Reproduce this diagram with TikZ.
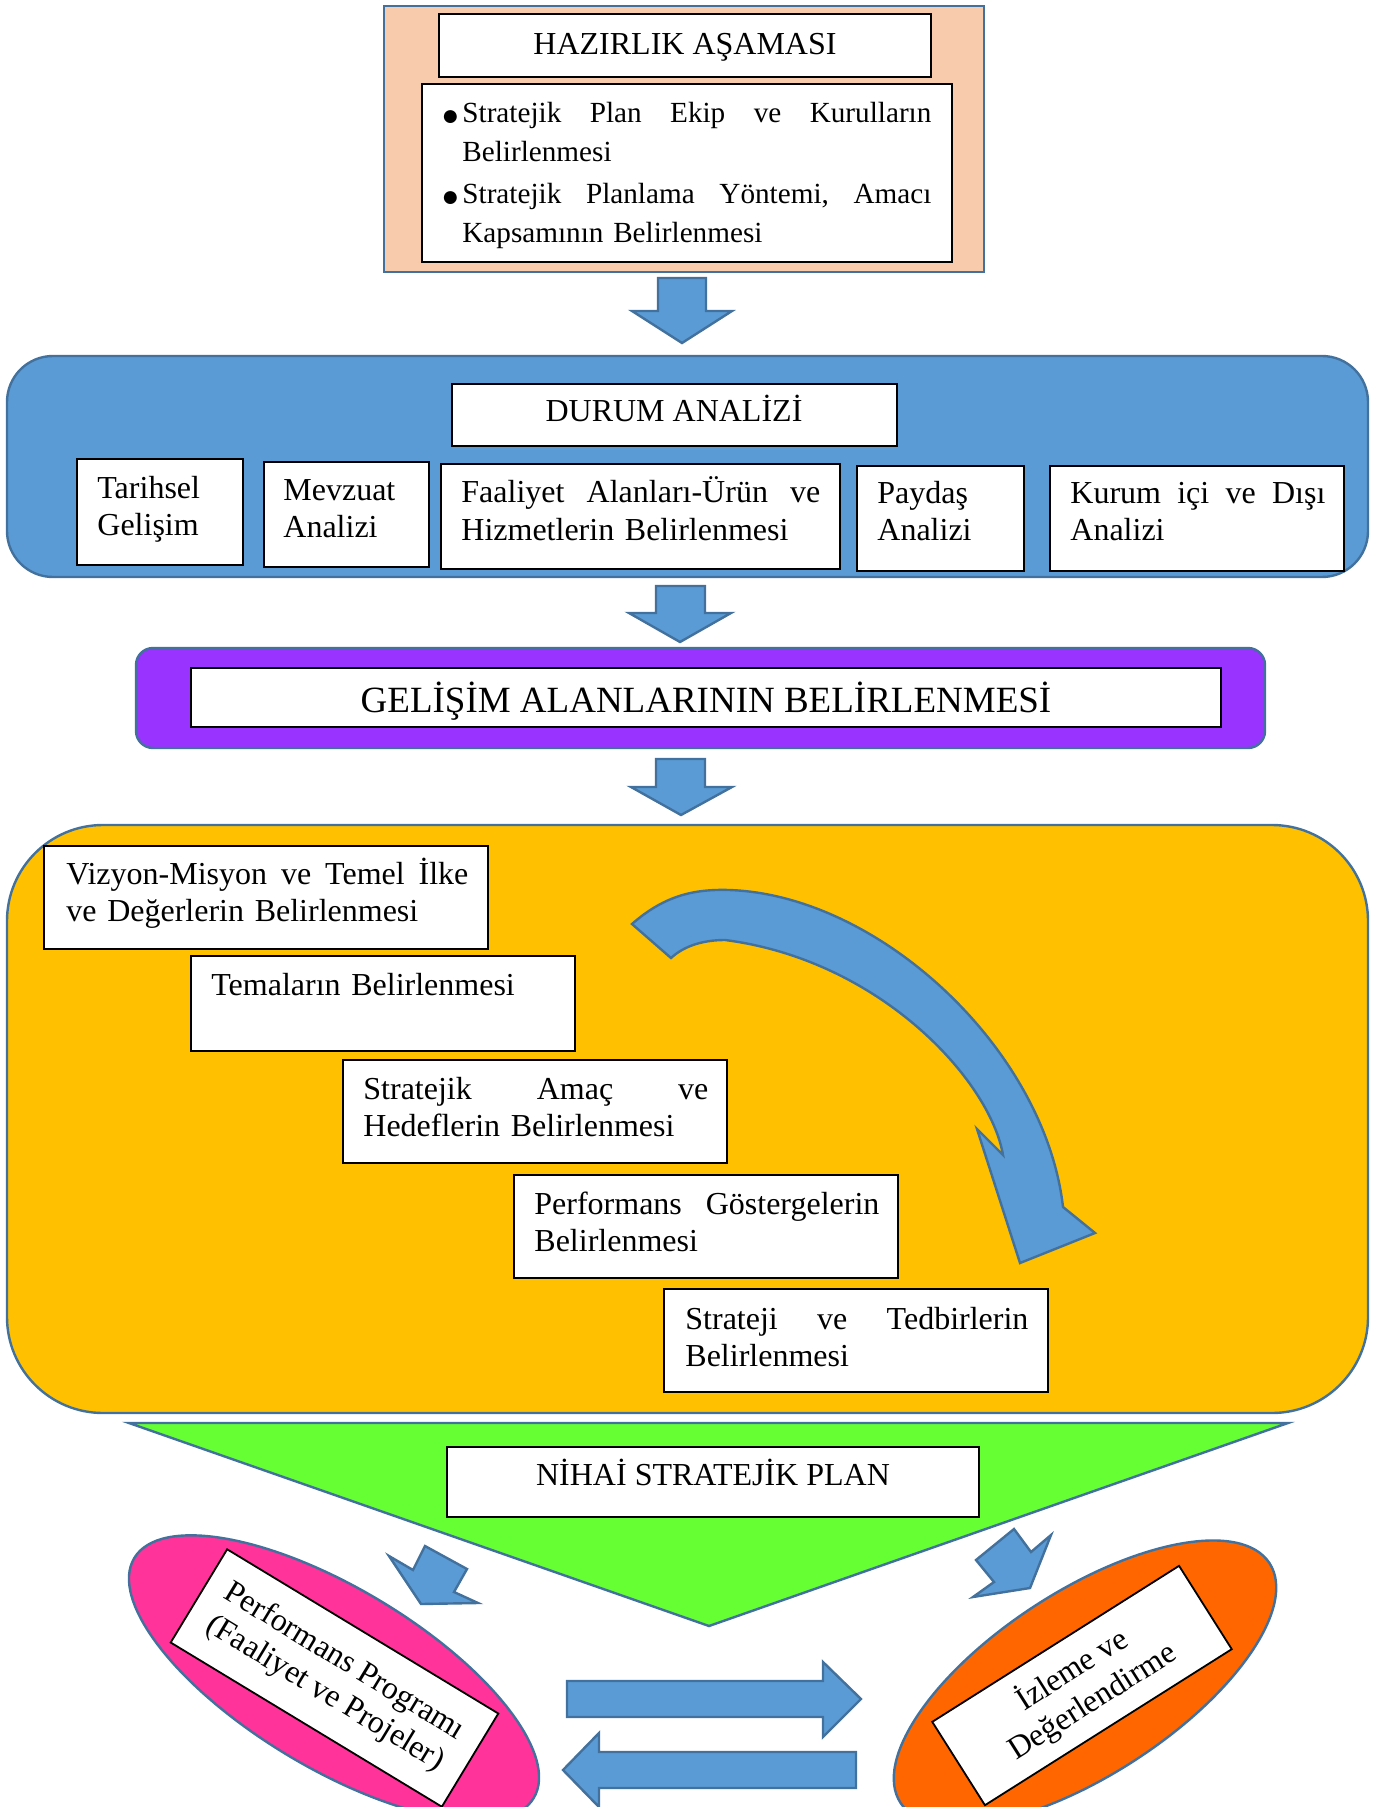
\documentclass[tikz,border=0pt]{standalone}
\usepackage{fontspec}
\setmainfont{Liberation Serif}
\definecolor{arrowblue}{HTML}{5B9BD5}
\definecolor{arrowedge}{HTML}{41719C}
\definecolor{peach}{HTML}{F8CBAD}
\definecolor{vpurple}{HTML}{9933FF}
\definecolor{amber}{HTML}{FFC000}
\definecolor{lgreen}{HTML}{66FF33}
\definecolor{hotpink}{HTML}{FF3399}
\definecolor{vorange}{HTML}{FF6600}
\newcommand\jline[2]{\hbox to #1{#2}}
\newcommand\bul{\makebox[9.5pt][l]{\hspace*{-1pt}\raisebox{-1.3pt}{\fontsize{15}{15}\selectfont ●}}}
\begin{document}
\begin{tikzpicture}[x=0.5pt,y=-0.5pt,
  wbox/.style={draw=black,fill=white,line width=0.9pt},
  shp/.style={draw=arrowedge,line width=1.2pt,line join=miter},
  blk/.style={shp,fill=arrowblue},
  ttl/.style={inner sep=0pt,anchor=base,font=\fontsize{16}{18.5}\selectfont},
  tl/.style={inner sep=0pt,anchor=base west,align=left,font=\fontsize{16}{18.5}\selectfont},
  rtxt/.style={draw=black,fill=white,line width=0.9pt,inner sep=0pt,align=center,font=\fontsize{16}{18.5}\selectfont}]
\useasboundingbox (0,0) rectangle (1375,1807);
\clip (0,0) rectangle (1375,1807);

% ---------- Hazirlik asamasi ----------
\draw[shp,fill=peach] (384,6) rectangle (984,272);
\draw[wbox] (439,14) rectangle (931,77);
\node[ttl] (hazirlik) at (685,55) {HAZIRLIK AŞAMASI};
\draw[wbox] (422,84) rectangle (952,262);
\node[tl,text width=246pt,font=\fontsize{14.6}{19.5}\selectfont] (bullets) at (443,123)
 {\bul\jline{234.5pt}{Stratejik\hfill Plan\hfill Ekip\hfill ve\hfill Kurulların}\\
  \hspace*{9.5pt}Belirlenmesi\\[1.5pt]
  \bul\jline{234.5pt}{Stratejik\hfill Planlama\hfill Yöntemi,\hfill Amacı}\\
  \hspace*{9.5pt}Kapsamının Belirlenmesi};

% arrow 1
\draw[blk] (658,278) -- (706,278) -- (706,311) -- (732,311) -- (682,343) -- (632,311) -- (658,311) -- cycle;

% ---------- Durum analizi ----------
\draw[shp,fill=arrowblue,rounded corners=23pt] (7,356) rectangle (1368,577);
\draw[wbox] (452,384) rectangle (897,446);
\node[ttl] (durum) at (674,422) {DURUM ANALİZİ};
\draw[wbox] (77,459) rectangle (243,565);
\node[tl,text width=70pt] (tarihsel) at (97,499) {Tarihsel\\Gelişim};
\draw[wbox] (264,462) rectangle (429,567);
\node[tl,text width=70pt] (mevzuat) at (283,501) {Mevzuat\\Analizi};
\draw[wbox] (441,464) rectangle (840,569);
\node[tl,text width=181pt] (faaliyet) at (461,503) {\jline{179.5pt}{Faaliyet\hfill Alanları-Ürün\hfill ve}\\Hizmetlerin Belirlenmesi};
\draw[wbox] (857,466) rectangle (1024,571);
\node[tl,text width=70pt] (paydas) at (877,504) {Paydaş\\Analizi};
\draw[wbox] (1050,466) rectangle (1344,571);
\node[tl,text width=130pt] (kurum) at (1070,504) {\jline{127.5pt}{Kurum\hfill içi\hfill ve\hfill Dışı}\\Analizi};

% arrow 2
\draw[blk] (656,586) -- (705,586) -- (705,613) -- (731,613) -- (680,642) -- (629,613) -- (656,613) -- cycle;

% ---------- Gelisim alanlari ----------
\draw[shp,fill=vpurple,rounded corners=8.5pt] (136,648) rectangle (1265,748);
\draw[wbox] (191,668) rectangle (1221,727);
\node[ttl,font=\fontsize{18.5}{22}\selectfont] (gelisim) at (706,712) {GELİŞİM ALANLARININ BELİRLENMESİ};

% arrow 3
\draw[blk] (656,759) -- (705,759) -- (705,787) -- (732,787) -- (681,815) -- (631,787) -- (656,787) -- cycle;

% ---------- Stratejik plan adimlari ----------
\draw[shp,fill=amber,rounded corners=48pt] (7,825) rectangle (1368,1413);
\draw[wbox] (44,846) rectangle (488,949);
\node[tl,text width=204pt] (vizyon) at (66,884) {\jline{201pt}{Vizyon-Misyon\hfill ve\hfill Temel\hfill İlke}\\ve Değerlerin Belirlenmesi};
\draw[wbox] (191,956) rectangle (575,1051);
\node[tl,text width=180pt] (temalar) at (211,995) {Temaların Belirlenmesi};
\draw[wbox] (343,1060) rectangle (727,1163);
\node[tl,text width=175pt] (amac) at (363,1099) {\jline{172.5pt}{Stratejik\hfill Amaç\hfill ve}\\Hedeflerin Belirlenmesi};
\draw[wbox] (514,1175) rectangle (898,1278);
\node[tl,text width=175pt] (gosterge) at (534,1214) {\jline{172.5pt}{Performans\hfill Göstergelerin}\\Belirlenmesi};
\draw[wbox] (664,1289) rectangle (1048,1392);
\node[tl,text width=175pt] (tedbir) at (685,1329) {\jline{171.5pt}{Strateji\hfill ve\hfill Tedbirlerin}\\Belirlenmesi};

% curved arrow
\draw[blk] (632,924) .. controls (665,895) and (695,889) .. (729,890)
  .. controls (880,895) and (1045,1050) .. (1063,1207)
  -- (1095,1233) -- (1020,1263) -- (977,1129) -- (1003,1155)
  .. controls (990,1080) and (880,960) .. (725,940)
  .. controls (705,940) and (685,945) .. (671,958) -- cycle;

% ---------- Nihai plan ----------
\draw[shp,fill=lgreen] (129,1423) -- (1288,1423) -- (709,1626) -- cycle;
\draw[wbox] (447,1447) rectangle (979,1517);
\node[ttl] (nihai) at (713,1485) {NİHAİ STRATEJİK PLAN};

% small arrows
\draw[blk] (389,1556) -- (413,1570) -- (425,1546) -- (467,1569) -- (454,1592) -- (478,1603) -- (421,1604) -- cycle;
\draw[blk] (1014,1529) -- (1031,1552) -- (1051,1535) -- (1030,1588) -- (973,1597) -- (994,1582) -- (976,1560) -- cycle;

% ellipses
\draw[shp,fill=hotpink,rotate around={-31:(334,1678)}] (334,1678) ellipse [x radius=233, y radius=90];
\node[rtxt,rotate=-31.2,minimum width=158.5pt,minimum height=54.5pt] (perf) at (334.5,1678) {Performans Programı\\(Faaliyet ve Projeler)};
\draw[shp,fill=vorange,rotate around={33:(1085,1683)}] (1085,1683) ellipse [x radius=220, y radius=92];
\node[rtxt,rotate=32.3,minimum width=146pt,minimum height=49.3pt] (izleme) at (1082,1685.5) {İzleme ve\\Değerlendirme};

% horizontal arrows
\draw[blk] (567,1681) -- (823,1681) -- (823,1662) -- (861,1699) -- (823,1737) -- (823,1717) -- (567,1717) -- cycle;
\draw[blk] (856,1752) -- (599,1752) -- (599,1733) -- (563,1770) -- (599,1807) -- (599,1788) -- (856,1788) -- cycle;
\end{tikzpicture}
\end{document}
